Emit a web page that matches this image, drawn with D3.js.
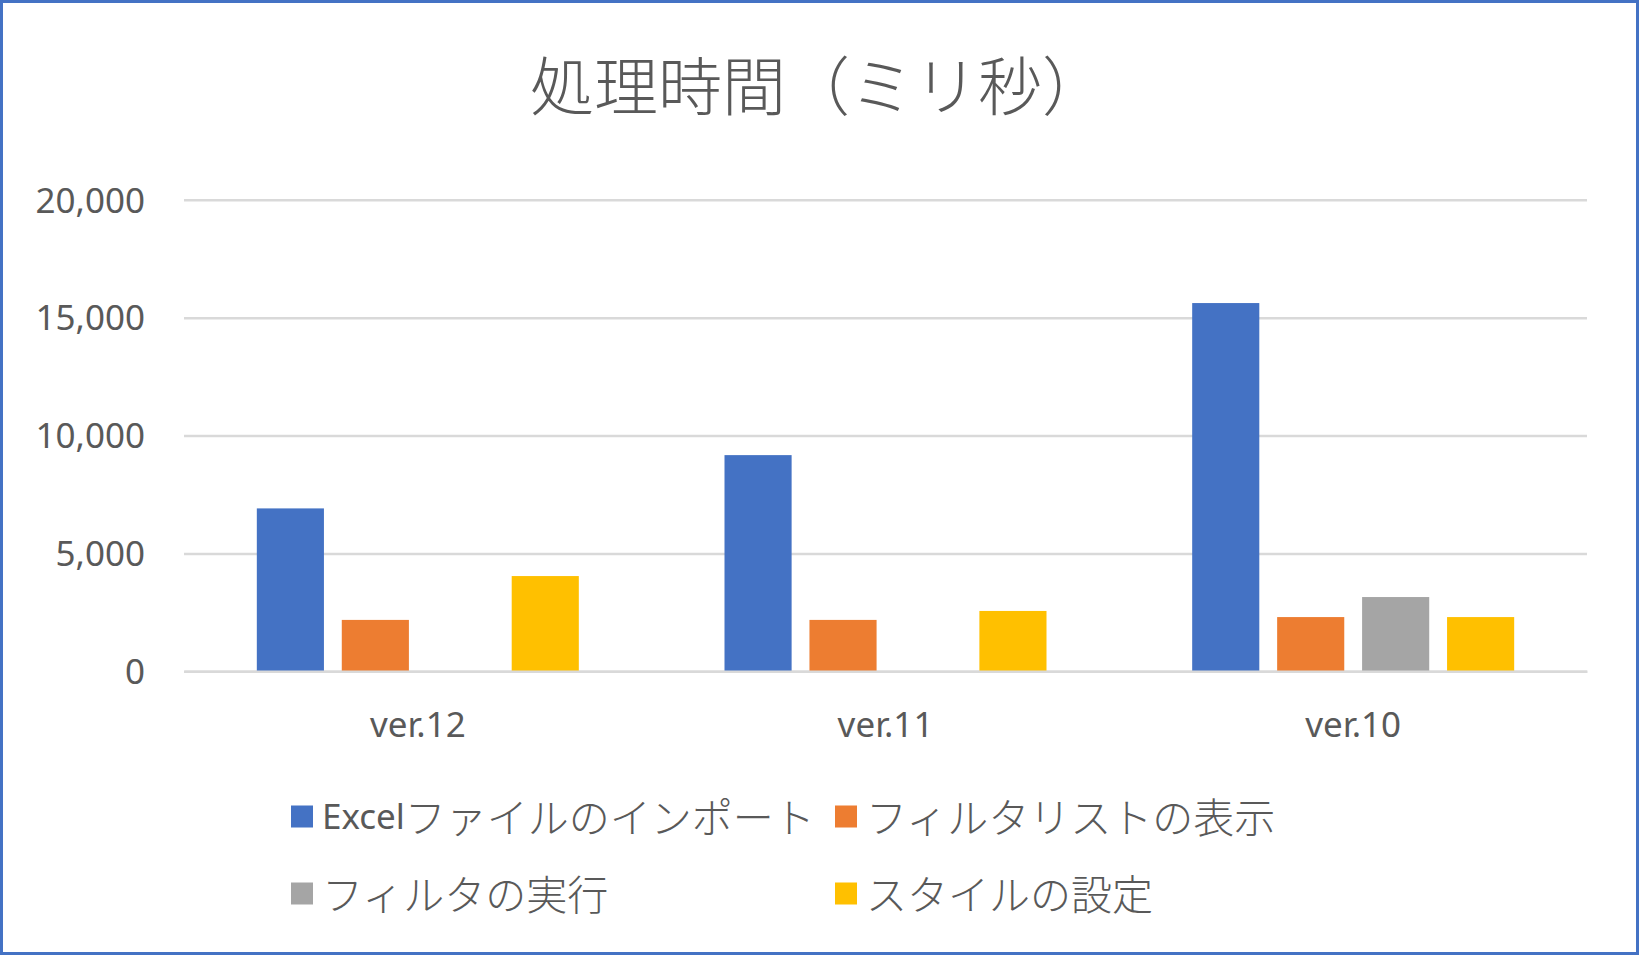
<!DOCTYPE html>
<html>
<head>
<meta charset="utf-8">
<script src="https://cdn.jsdelivr.net/npm/d3@7"></script>
<style>
	body { margin: 0; background: #fff; }
	text { fill: #595959; }
</style>
</head>
<body>
<div id="chart"></div>
<script>
var categories = ["ver.12", "ver.11", "ver.10"];
var seriesNames = ["Excelファイルのインポート", "フィルタリストの表示", "フィルタの実行", "スタイルの設定"];
var importTimes = [6910, 9170, 15620];
var listTimes = [2180, 2180, 2300];
var filterTimes = [null, null, 3150];
var styleTimes = [4040, 2560, 2300];
var yTicks = [0, 5000, 10000, 15000, 20000];
var seriesColours = ["#4472c4", "#ed7d31", "#a5a5a5", "#ffc000"];

var W = 1639, H = 955;
var plot = { left: 184, right: 1587, top: 199.8, bottom: 671.3 };
var jpFont = "'Noto Sans CJK JP', 'Noto Sans', sans-serif";
var latinFont = "'Noto Sans', 'Open Sans', sans-serif";

var seriesValues = [importTimes, listTimes, filterTimes, styleTimes];

var svg = d3.select("#chart")
	.append("svg")
	.attr("width", W)
	.attr("height", H);

svg.append("rect")
	.attr("x", 1.5).attr("y", 1.5)
	.attr("width", W - 3).attr("height", H - 3)
	.style("fill", "#fff")
	.style("stroke", "#4472c4")
	.style("stroke-width", 3);

// title
svg.append("text")
	.attr("x", 530)
	.attr("y", 110)
	.style("font-family", jpFont)
	.style("font-weight", 300)
	.style("font-size", "64px")
	.text("処理時間（ミリ秒）");

var x0 = d3.scaleBand()
	.domain(categories)
	.range([plot.left, plot.right])
	.paddingInner(0.3115)
	.paddingOuter(0.1557);

var x1 = d3.scaleBand()
	.domain(d3.range(seriesNames.length))
	.range([0, x0.bandwidth()])
	.paddingInner(0.21)
	.paddingOuter(0);

var y = d3.scaleLinear()
	.domain([0, 20000])
	.range([plot.bottom, plot.top]);

var colour = d3.scaleOrdinal()
	.domain(d3.range(seriesNames.length))
	.range(seriesColours);

// gridlines
var yAxis = d3.axisLeft(y)
	.tickValues(yTicks)
	.tickSize(-(plot.right - plot.left))
	.tickFormat(d3.format(","));

var gy = svg.append("g")
	.attr("transform", "translate(" + plot.left + ",0)")
	.call(yAxis);

gy.select(".domain").remove();
gy.selectAll(".tick line")
	.style("stroke", "#d9d9d9")
	.style("stroke-width", 2.5);
gy.selectAll(".tick text")
	.attr("x", -39)
	.attr("dy", "0.35em")
	.style("font-family", latinFont)
	.style("font-size", "35px")
	.style("fill", "#595959");

// bars
var rows = [];
categories.forEach(function(_c, ci) {
	seriesValues.forEach(function(_vals, si) {
		if(_vals[ci] != null)	{
			rows.push({ cat: _c, s: si, v: _vals[ci] });
		}
	});
});

svg.append("g")
	.selectAll("rect")
	.data(rows)
	.enter().append("rect")
	.attr("x", function(_d) { return x0(_d.cat) + x1(_d.s); })
	.attr("y", function(_d) { return y(_d.v); })
	.attr("width", x1.bandwidth())
	.attr("height", function(_d) { return y(0) - y(_d.v); })
	.style("fill", function(_d) { return colour(_d.s); });

// category axis line on top of the bars
var xAxis = d3.axisBottom(x0).tickSize(0).tickPadding(0);
var gx = svg.append("g")
	.attr("transform", "translate(0," + y(0) + ")")
	.call(xAxis);

gx.select(".domain")
	.style("stroke", "#d9d9d9")
	.style("stroke-width", 2.5);
gx.selectAll(".tick text")
	.attr("y", 66)
	.attr("dy", 0)
	.style("font-family", latinFont)
	.style("font-size", "35px")
	.style("fill", "#595959");

// legend
var legendX = [291, 835];
var legendY = [816.5, 893.5];
var swatch = 22;

var legendGroup = svg.selectAll(".legendGroup")
	.data(seriesNames)
	.enter().append("g")
	.attr("class", "legendGroup")
	.attr("transform", function(_d, i) {
		return "translate(" + legendX[i % 2] + ", " + legendY[Math.floor(i / 2)] + ")";
	});

legendGroup.append("rect")
	.attr("x", 0)
	.attr("y", -swatch / 2)
	.attr("width", swatch)
	.attr("height", swatch)
	.style("fill", function(_d, i) { return colour(i); });

var legendText = legendGroup.append("text")
	.attr("x", swatch + 9)
	.attr("y", -2)
	.attr("dominant-baseline", "central")
	.style("font-family", jpFont)
	.style("font-weight", 300)
	.style("font-size", "41px");

// latin words are set a bit smaller, as in the original font
legendText.each(function(_d) {
	var t = d3.select(this);
	var m = _d.match(/^[A-Za-z]+/);
	if(m)	{
		t.append("tspan")
		.style("font-family", latinFont)
		.style("font-weight", 400)
		.style("font-size", "35px")
		.text(m[0]);
	}
	t.append("tspan").text(m ? _d.slice(m[0].length) : _d);
});
</script>
</body>
</html>
